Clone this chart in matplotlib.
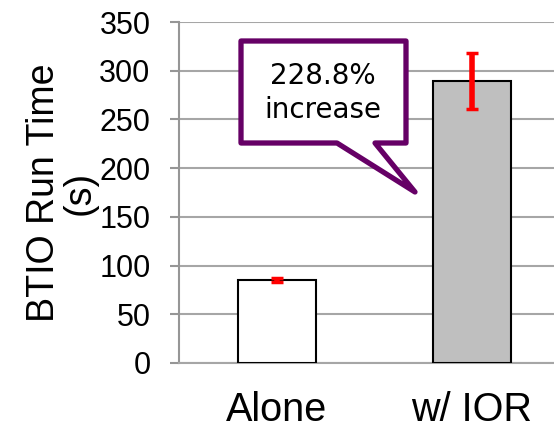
import numpy as np
import matplotlib.pyplot as plt
from matplotlib.patches import Polygon

# BTIO run time, alone vs. co-running with IOR
categories = ["Alone", "w/ IOR"]
run_time = [85, 289.5]
run_time_err = [2, 28.5]
bar_colors = ["white", "#bfbfbf"]
yticks = [0, 50, 100, 150, 200, 250, 300, 350]
callout_text = "228.8%\nincrease"

fig = plt.figure(figsize=(5.54, 4.34), dpi=100)
W, H = 554, 434
# axes placed in pixel terms: left spine at x=179, 0 at y=363, 350 at y=22
ax = fig.add_axes([179 / W, (H - 363) / H, (554 - 179) / W, (363 - 22) / H])

x = np.arange(len(categories))
ax.bar(x, run_time, width=0.4, color=bar_colors, edgecolor="black",
       linewidth=1.5, zorder=3)
ax.errorbar(x, run_time, yerr=run_time_err, fmt="none", ecolor="red",
            elinewidth=4, capsize=4.5, capthick=2.5, zorder=4)

ax.set_xlim(-0.5, -0.5 + 375 / 195)
ax.set_ylim(0, 350)
ax.set_yticks(yticks)
ax.set_xticks(x)
ax.set_xticklabels(categories, fontsize=28.5, family="Liberation Sans")
ax.tick_params(axis="x", length=0, pad=20.5)
ax.tick_params(axis="y", length=6.5, width=1.5, color="#969696",
               labelsize=22, pad=14)
for lbl in ax.get_yticklabels():
    lbl.set_family("Liberation Sans")

ax.yaxis.grid(True, color="#a6a6a6", linewidth=1.5, zorder=0)
ax.set_axisbelow(True)
for side in ["top", "right"]:
    ax.spines[side].set_visible(False)
ax.spines["left"].set_color("#969696")
ax.spines["left"].set_linewidth(1.5)
ax.spines["bottom"].set_color("#a6a6a6")
ax.spines["bottom"].set_linewidth(1.5)

ax.set_ylabel("BTIO Run Time\n(s)", fontsize=27, family="Liberation Sans",
              linespacing=1.0, labelpad=1)

# speech-bubble callout pointing at the w/ IOR bar (pixel outline -> axes fraction)
bubble_px = [(241, 41), (406, 41), (406, 143), (375, 143), (415, 192),
             (337, 143), (241, 143)]
bubble = [((px - 179) / 375, (363 - py) / 341) for px, py in bubble_px]
ax.add_patch(Polygon(bubble, closed=True, transform=ax.transAxes,
                     facecolor="white", edgecolor="#660066", linewidth=3.8,
                     joinstyle="round", zorder=5, clip_on=False))
ax.text((323 - 179) / 375, (363 - 93) / 341, callout_text,
        transform=ax.transAxes, ha="center", va="center", fontsize=20,
        family="DejaVu Sans", linespacing=1.3, zorder=6)

fig.savefig("out.png", dpi=100)
